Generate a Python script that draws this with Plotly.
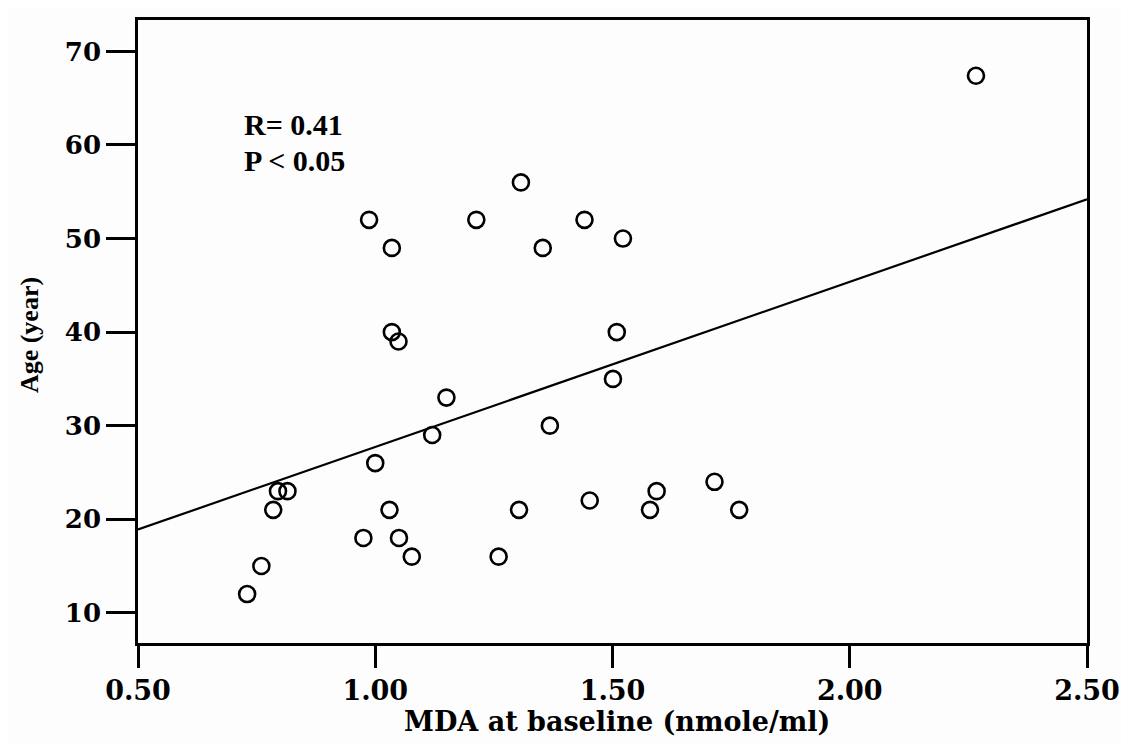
import plotly.graph_objects as go

# Data
mda = [0.73, 0.76, 0.785, 0.795, 0.815, 0.975, 1.00, 1.03, 1.05, 1.077, 1.12, 1.26, 1.303,
       0.987, 1.035, 1.035, 1.049, 1.15, 1.213, 1.307,
       1.441, 1.353, 1.522, 1.509, 1.501, 1.368, 1.452, 1.593, 1.579, 1.715, 1.767, 2.266]
age = [12, 15, 21, 23, 23, 18, 26, 21, 18, 16, 29, 16, 21,
       52, 49, 40, 39, 33, 52, 56,
       52, 49, 50, 40, 35, 30, 22, 23, 21, 24, 21, 67.4]

fit_x = [0.5, 2.5]
fit_y = [18.9, 54.2]

x_ticks = [0.5, 1.0, 1.5, 2.0, 2.5]
x_ticklabels = ["0.50", "1.00", "1.50", "2.00", "2.50"]
y_ticks = [10, 20, 30, 40, 50, 60, 70]

SERIF = "Liberation Serif, Times New Roman, serif"
WIDE = "DejaVu Serif, serif"

fig = go.Figure()
fig.add_trace(go.Scatter(x=fit_x, y=fit_y, mode="lines",
                         line=dict(color="black", width=2.2), showlegend=False))
fig.add_trace(go.Scatter(x=mda, y=age, mode="markers",
                         marker=dict(symbol="circle-open", size=16, color="black",
                                     line=dict(width=2.6, color="black")),
                         showlegend=False))

fig.update_layout(
    width=1121, height=737,
    margin=dict(l=130, r=33, t=9, b=102),
    paper_bgcolor="#fdfdfd", plot_bgcolor="#fdfdfd",
    font=dict(family=SERIF, color="black"),
    xaxis=dict(range=[0.5, 2.5], tickvals=x_ticks, ticktext=x_ticklabels,
               showgrid=False, zeroline=False, showline=True, mirror=True,
               linecolor="black", linewidth=2.5, ticks="outside", ticklen=22,
               tickwidth=3, tickcolor="black",
               tickfont=dict(family=WIDE, size=27, color="black", weight="bold")),
    yaxis=dict(range=[6.77, 73.36], tickvals=y_ticks,
               showgrid=False, zeroline=False, showline=True, mirror=True,
               linecolor="black", linewidth=2.5, ticks="outside", ticklen=29,
               tickwidth=3, tickcolor="black",
               tickfont=dict(family=WIDE, size=26, color="black", weight="bold")),
    annotations=[
        dict(text="<b>R= 0.41</b>", xref="paper", yref="paper", x=0.110, y=0.832,
             xanchor="left", yanchor="middle", showarrow=False,
             font=dict(family=SERIF, size=30, color="black")),
        dict(text="<b>P &lt; 0.05</b>", xref="paper", yref="paper", x=0.110, y=0.775,
             xanchor="left", yanchor="middle", showarrow=False,
             font=dict(family=SERIF, size=30, color="black")),
        dict(text="<b>MDA at baseline (nmole/ml)</b>", xref="paper", yref="paper",
             x=0.505, y=-0.126, xanchor="center", yanchor="middle", showarrow=False,
             font=dict(family=WIDE, size=27, color="black")),
        dict(text="<b>Age (year)</b>", xref="paper", yref="paper", textangle=-90,
             x=-0.115, y=0.494, xanchor="center", yanchor="middle", showarrow=False,
             font=dict(family=SERIF, size=26, color="black")),
    ],
)

fig.write_html("out.html")
